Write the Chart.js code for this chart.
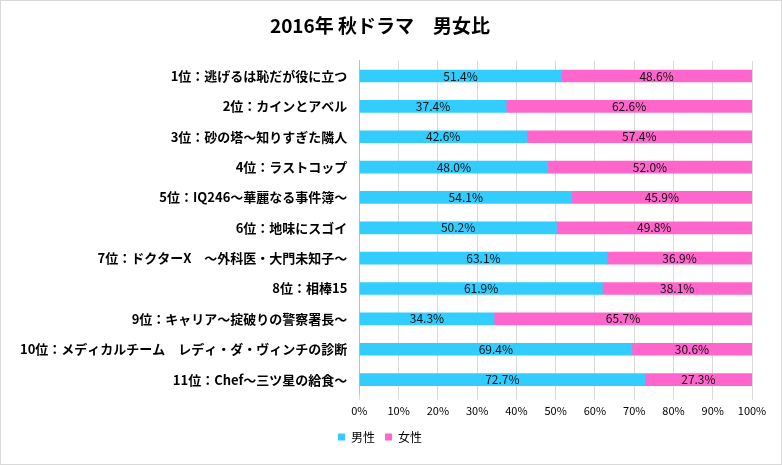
<!DOCTYPE html>
<html>
<head>
<meta charset="utf-8">
<script src="https://cdn.jsdelivr.net/npm/chart.js@4.4.1/dist/chart.umd.min.js"></script>
<style>
    html, body { margin: 0; padding: 0; background: #fff; }
    #wrap { width: 782px; height: 465px; position: relative; }
</style>
</head>
<body>
<div id="wrap"><canvas id="ratioChart"></canvas></div>
<script>
const dramas = [
    "1位：逃げるは恥だが役に立つ",
    "2位：カインとアベル",
    "3位：砂の塔～知りすぎた隣人",
    "4位：ラストコップ",
    "5位：IQ246～華麗なる事件簿～",
    "6位：地味にスゴイ",
    "7位：ドクターX　～外科医・大門未知子～",
    "8位：相棒15",
    "9位：キャリア～掟破りの警察署長～",
    "10位：メディカルチーム　レディ・ダ・ヴィンチの診断",
    "11位：Chef～三ツ星の給食～"
];
const male = [51.4, 37.4, 42.6, 48.0, 54.1, 50.2, 63.1, 61.9, 34.3, 69.4, 72.7];
const female = [48.6, 62.6, 57.4, 52.0, 45.9, 49.8, 36.9, 38.1, 65.7, 30.6, 27.3];
const xTicks = [0, 10, 20, 30, 40, 50, 60, 70, 80, 90, 100];

const FONT = "'Noto Sans CJK JP', 'Noto Sans', sans-serif";

// value labels in the middle of each segment
const barLabels = {
    id: "barLabels",
    afterDatasetsDraw(chart) {
        const ctx = chart.ctx;
        ctx.save();
        ctx.font = "12px " + FONT;
        ctx.fillStyle = "#111";
        ctx.textAlign = "center";
        ctx.textBaseline = "middle";
        chart.data.datasets.forEach((ds, i) => {
            chart.getDatasetMeta(i).data.forEach((bar, j) => {
                const mid = (bar.x + bar.base) / 2;
                ctx.fillText(ds.data[j].toFixed(1) + "%", mid, bar.y);
            });
        });
        ctx.restore();
    }
};

// thin frame round the whole chart
const frame = {
    id: "frame",
    afterDraw(chart) {
        const ctx = chart.ctx;
        ctx.save();
        ctx.strokeStyle = "#d9d9d9";
        ctx.lineWidth = 1;
        ctx.strokeRect(0.5, 0.5, chart.width - 1, chart.height - 1);
        ctx.restore();
    }
};

new Chart(document.getElementById("ratioChart"), {
    type: "bar",
    data: {
        labels: dramas,
        datasets: [
            {
                label: "男性",
                data: male,
                backgroundColor: "#33CCFF",
                barThickness: 12
            },
            {
                label: "女性",
                data: female,
                backgroundColor: "#FF66CC",
                barThickness: 12
            }
        ]
    },
    options: {
        indexAxis: "y",
        responsive: true,
        maintainAspectRatio: false,
        animation: false,
        layout: {
            padding: { left: 8, right: 30, top: 6, bottom: 12 }
        },
        plugins: {
            title: {
                display: true,
                text: "2016年 秋ドラマ　男女比",
                color: "#000",
                font: { family: FONT, size: 19, weight: "bold" },
                padding: { top: 8, bottom: 24 }
            },
            legend: {
                position: "bottom",
                labels: {
                    boxWidth: 7,
                    boxHeight: 7,
                    padding: 10,
                    color: "#000",
                    font: { family: FONT, size: 12 }
                }
            },
            tooltip: { enabled: false }
        },
        scales: {
            x: {
                stacked: true,
                min: 0,
                max: 100,
                afterBuildTicks: axis => {
                    axis.ticks = xTicks.map(v => ({ value: v }));
                },
                ticks: {
                    color: "#000",
                    font: { family: FONT, size: 11 },
                    padding: 4,
                    callback: v => v + "%"
                },
                grid: {
                    color: "#d9d9d9",
                    tickLength: 5
                },
                border: { display: false }
            },
            y: {
                stacked: true,
                ticks: {
                    color: "#000",
                    font: { family: FONT, size: 13, weight: "bold" },
                    padding: 12
                },
                grid: { display: false, tickLength: 0 },
                border: { display: true, color: "#bfbfbf" }
            }
        }
    },
    plugins: [barLabels, frame]
});
</script>
</body>
</html>
